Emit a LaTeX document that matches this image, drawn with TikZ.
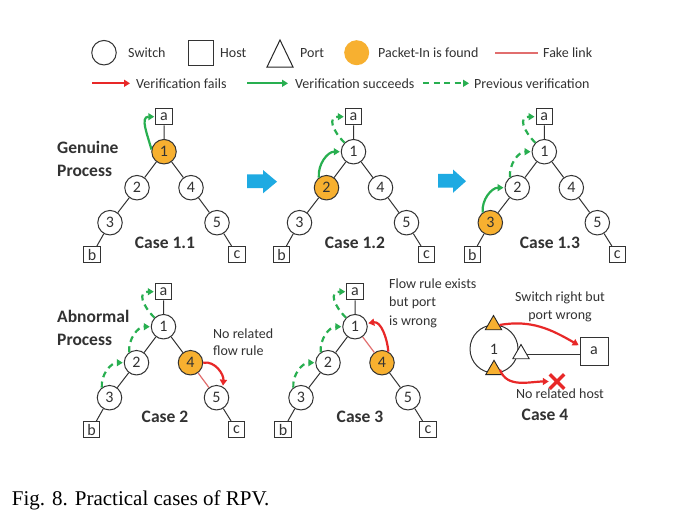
\documentclass[tikz,border=0pt]{standalone}
\usepackage{fontspec}
\setmainfont{Carlito}
\newfontfamily\capfont{Liberation Serif}
\usetikzlibrary{arrows.meta,shapes.geometric,shapes.misc}
\definecolor{pktorange}{RGB}{247,176,48}
\definecolor{okgreen}{RGB}{40,175,80}
\definecolor{badred}{RGB}{232,40,40}
\definecolor{fakered}{RGB}{225,110,110}
\definecolor{bluearr}{RGB}{30,170,226}
\definecolor{txt}{RGB}{50,50,50}
\tikzset{
  txtfont/.style={font=\fontsize{14}{17}\selectfont, text=txt},
  nodefont/.style={font=\fontsize{16}{18}\selectfont, text=txt},
  sw/.style={circle, draw=black!80, line width=1pt, minimum size=24.5pt, inner sep=0pt, fill=white, nodefont},
  pkt/.style={sw, fill=pktorange},
  host/.style={rectangle, draw=black!80, line width=1pt, minimum size=16.5pt, inner sep=0pt, fill=white, nodefont},
  edge/.style={draw=black!80, line width=1pt},
  fake/.style={draw=fakered, line width=1.2pt},
  tip/.style={-{Triangle[length=6pt,width=7pt]}},
  ok/.style={draw=okgreen, line width=2.2pt, tip, shorten >=1pt},
  prev/.style={ok, dash pattern=on 6pt off 4.5pt},
  bad/.style={draw=badred, line width=2.2pt, tip, shorten >=1pt},
  lbl/.style={txtfont, inner sep=0pt},
  head/.style={font=\fontsize{17.5}{23}\selectfont\bfseries, text=txt, inner sep=0pt, align=left},
  tri/.style={regular polygon, regular polygon sides=3, draw=black!85, line width=0.9pt, minimum size=19pt, inner sep=0pt},
}
\newcommand{\mktree}[9]{%
\begin{scope}[shift={(#2,#3)}]
\node[host] (#1a) at (0,35) {a};
\node[#4] (#11) at (0,0) {1};
\node[#5] (#12) at (-27,-36) {2};
\node[#7] (#14) at (27,-36) {4};
\node[#6] (#13) at (-54,-71) {3};
\node[sw] (#15) at (53,-71) {5};
\node[host] (#1b) at (-72,-103) {b};
\node[host] (#1c) at (73,-103) {c};
\end{scope}
\draw[edge] (#1a)--(#11) (#11)--(#12) (#12)--(#13) (#13)--(#1b) (#15)--(#1c);
\draw[#8] (#11)--(#14);
\draw[#9] (#14)--(#15);
}
\begin{document}
\begin{tikzpicture}[x=1pt,y=1pt]
\useasboundingbox (0,0) rectangle (693,-528);
\fill[white] (0,0) rectangle (693,-528);

% legend
\node[sw] (lsw) at (104,-52.7) {};
\node[lbl,anchor=west] at (128,-52.7) {Switch};
\node[host, minimum size=25pt] (lhost) at (200.5,-52.5) {};
\node[lbl,anchor=west] at (220,-52.7) {Host};
\draw[black!85, line width=1pt] (267,-67) -- (293,-67) -- (280,-40) -- cycle;
\node[lbl,anchor=west] at (300,-52.7) {Port};
\node[circle, fill=pktorange, minimum size=25pt, inner sep=0pt] (lpkt) at (356.7,-52.7) {};
\node[lbl,anchor=west] at (378,-52.7) {Packet-In is found};
\coordinate (lf1) at (495,-53); \coordinate (lf2) at (538,-53);
\draw[fake] (lf1) -- (lf2);
\node[lbl,anchor=west] at (543,-52.7) {Fake link};
\coordinate (lb1) at (92,-83.3); \coordinate (lb2) at (131,-83.3);
\draw[bad] (lb1) -- (lb2);
\node[lbl,anchor=west] at (136,-83.3) {Verification fails};
\coordinate (lo1) at (247,-83.3); \coordinate (lo2) at (289,-83.3);
\draw[ok] (lo1) -- (lo2);
\node[lbl,anchor=west] at (295,-83.3) {Verification succeeds};
\coordinate (lp1) at (423,-83.3); \coordinate (lp2) at (470,-83.3);
\draw[prev] (lp1) -- (lp2);
\node[lbl,anchor=west] at (474,-83.3) {Previous verification};

% headings
\node[head,anchor=west] at (57,-158.5) {Genuine\\Process};
\node[head,anchor=west] at (57,-327.5) {Abnormal\\Process};

% trees
\mktree{A}{164}{-151.7}{pkt}{sw}{sw}{sw}{edge}{edge}
\mktree{B}{353.5}{-151.7}{sw}{pkt}{sw}{sw}{edge}{edge}
\mktree{C}{544.3}{-151.7}{sw}{sw}{pkt}{sw}{edge}{edge}
\mktree{D}{163.5}{-326.7}{sw}{sw}{sw}{pkt}{edge}{fake}
\mktree{E}{355}{-326.7}{sw}{sw}{sw}{pkt}{fake}{edge}

% case labels
\node[head] at (165,-243) {Case 1.1};
\node[head] at (355,-243) {Case 1.2};
\node[head] at (550,-243) {Case 1.3};
\node[head] at (165,-417) {Case 2};
\node[head] at (360,-417) {Case 3};
\node[head] at (545,-415) {Case 4};

% blue arrows
\fill[bluearr] (247,-174.3) -- (263,-174.3) -- (263,-170) -- (277,-181.7) -- (263,-193.3) -- (263,-188) -- (247,-188) -- cycle;
\fill[bluearr] (438,-173.8) -- (453,-173.8) -- (453,-169.5) -- (466,-181.2) -- (453,-192.8) -- (453,-187.5) -- (438,-187.5) -- cycle;

% green verification arrows
\draw[ok] (A1.170) to[out=105,in=180,looseness=1.2] (Aa.west);

\draw[ok] (B2.127) to[out=95,in=180] (B1.west);
\draw[prev] (B1.135) to[out=135,in=180,looseness=1.7] (Ba.west);

\draw[ok] (C3.127) to[out=95,in=180] (C2.west);
\draw[prev] (C2.125) to[out=95,in=180] (C1.west);
\draw[prev] (C1.135) to[out=135,in=180,looseness=1.7] (Ca.west);

\draw[prev] (D3.127) to[out=95,in=180] (D2.west);
\draw[prev] (D2.125) to[out=95,in=180] (D1.west);
\draw[prev] (D1.135) to[out=135,in=180,looseness=1.7] (Da.west);
\draw[bad] (D4.east) to[out=10,in=85] (D5.60);

\draw[prev] (E3.127) to[out=95,in=180] (E2.west);
\draw[prev] (E2.125) to[out=95,in=180] (E1.west);
\draw[prev] (E1.135) to[out=135,in=180,looseness=1.7] (Ea.west);
\draw[bad] (E4.60) to[out=95,in=10] (E1.15);

% texts
\node[lbl,anchor=north west,align=left] at (213,-329) {No related\\flow rule};
\node[lbl,anchor=north west,align=left,font=\fontsize{14}{18.3}\selectfont] at (389,-278.5) {Flow rule exists\\but port\\is wrong};

% case 4
\node[circle, draw=black!80, line width=1pt, minimum size=48pt, inner sep=0pt, nodefont] (s4) at (494,-349) {1};
\node[tri, fill=pktorange] (t1) at (493.5,-325) {};
\node[tri, fill=pktorange] (t2) at (494,-369.8) {};
\node[tri, fill=white] (t3) at (521,-354) {};
\node[host, minimum size=28pt] (a4) at (594,-351) {a};
\draw[edge] (t3.east) -- (t3.east -| a4.west);
\node[lbl,align=center,font=\fontsize{14}{17.4}\selectfont] at (560,-307) {Switch right but\\port wrong};
\node[lbl] at (560,-393.3) {No related host};
\node[cross out, draw=badred, line width=3.5pt, minimum size=11pt, inner sep=0pt] (xm) at (557,-381.5) {};
\draw[bad] (t1.east) to[out=10,in=150] (a4.160);
\draw[bad] (t2.east) to[out=-70,in=180] (xm.west);

% caption
\node[anchor=base west, inner sep=0pt, font=\capfont\fontsize{21}{25}\selectfont] at (11.7,-505) {Fig. 8. Practical cases of RPV.};
\end{tikzpicture}
\end{document}
